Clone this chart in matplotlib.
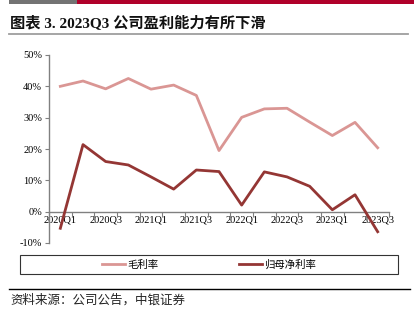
import matplotlib
matplotlib.use("Agg")
import matplotlib.pyplot as plt
from matplotlib.lines import Line2D
from matplotlib.patches import Rectangle
from matplotlib.ticker import FixedLocator, FuncFormatter

plt.rcParams['font.family'] = ['Liberation Serif', 'Noto Sans CJK SC', 'DejaVu Sans']

# quarters 2020Q1 .. 2023Q3
quarters = ['2020Q1', '2020Q2', '2020Q3', '2020Q4', '2021Q1', '2021Q2', '2021Q3', '2021Q4',
            '2022Q1', '2022Q2', '2022Q3', '2022Q4', '2023Q1', '2023Q2', '2023Q3']
gross_margin = [40.0, 41.7, 39.2, 42.5, 39.1, 40.4, 37.1, 19.5,
                30.1, 32.8, 33.0, 28.6, 24.3, 28.5, 20.4]
net_margin = [-5.3, 21.4, 16.0, 14.9, 11.1, 7.2, 13.3, 12.8,
              2.1, 12.7, 11.1, 8.1, 0.6, 5.4, -6.4]
y_ticks = [-10, 0, 10, 20, 30, 40, 50]

W, H = 415, 326
fig = plt.figure(figsize=(W / 100, H / 100), dpi=100)

# header bars
fig.patches.append(Rectangle((9 / W, 1 - 4 / H), 68 / W, 4 / H, transform=fig.transFigure,
                             color='#737373', lw=0))
fig.patches.append(Rectangle((77 / W, 1 - 4 / H), 337 / W, 4 / H, transform=fig.transFigure,
                             color='#B0002A', lw=0))
fig.text(10 / W, 1 - 23 / H, '图表 3. 2023Q3 公司盈利能力有所下滑', fontsize=11,
         fontweight='bold', va='center', ha='left', color='#111111')
fig.add_artist(Line2D([9 / W, 408 / W], [1 - 34 / H, 1 - 34 / H], color='#9E9E9E', lw=1.3))

# plot area
ax = fig.add_axes([49 / W, 1 - 243 / H, 340 / W, 188 / H])
x = list(range(len(quarters)))
ax.plot(x, gross_margin, color='#DA9694', lw=2.0, zorder=4, label='毛利率')
ax.plot(x, net_margin, color='#943634', lw=2.0, zorder=4, label='归母净利率')

ax.set_xlim(-0.5, len(quarters) - 0.5)
ax.set_ylim(-10, 50)
ax.set_yticks(y_ticks)
ax.yaxis.set_major_formatter(FuncFormatter(lambda v, p: f'{v:.0f}%'))
ax.tick_params(axis='y', length=3, width=0.8, color='#808080', labelsize=7.5, pad=2)

ax.set_xticks(x[::2])
ax.set_xticklabels(quarters[::2])
ax.xaxis.set_minor_locator(FixedLocator([i - 0.5 for i in range(len(quarters) + 1)]))
ax.tick_params(axis='x', which='major', length=0, labelsize=7.5, pad=3)
ax.tick_params(axis='x', which='minor', length=3.5, width=0.8, color='#808080')

for s in ['top', 'right']:
    ax.spines[s].set_visible(False)
ax.spines['bottom'].set_position(('data', 0))
ax.spines['bottom'].set_color('#808080')
ax.spines['left'].set_color('#808080')
ax.spines['bottom'].set_linewidth(1.0)
ax.spines['left'].set_linewidth(1.0)

ax.yaxis.grid(True, color='black', linestyle=(0, (3, 3)), lw=0.8)
for t in ax.yaxis.get_major_ticks():
    if t.get_loc() == 0:
        t.gridline.set_visible(False)
ax.set_axisbelow(True)

# legend
fig.patches.append(Rectangle((20 / W, 1 - 274 / H), 378 / W, 19 / H, transform=fig.transFigure,
                             fill=False, ec='#333333', lw=0.8))
handles, labels = ax.get_legend_handles_labels()
fig.legend(handles, labels, loc='center', bbox_to_anchor=(209 / W, 1 - 264.5 / H), ncol=2,
           frameon=False, fontsize=7.5, handlelength=2.2, handletextpad=0.15,
           columnspacing=7.8, prop={'family': ['Noto Sans CJK SC'], 'size': 7.5})

# source
fig.add_artist(Line2D([9 / W, 410 / W], [1 - 289 / H, 1 - 289 / H], color='black', lw=1.0))
fig.text(10 / W, 1 - 300 / H, '资料来源：公司公告，中银证券', fontsize=9, style='italic',
         va='center', ha='left', color='#222222', family=['Noto Sans CJK SC'])

fig.savefig('out.png', dpi=100)
